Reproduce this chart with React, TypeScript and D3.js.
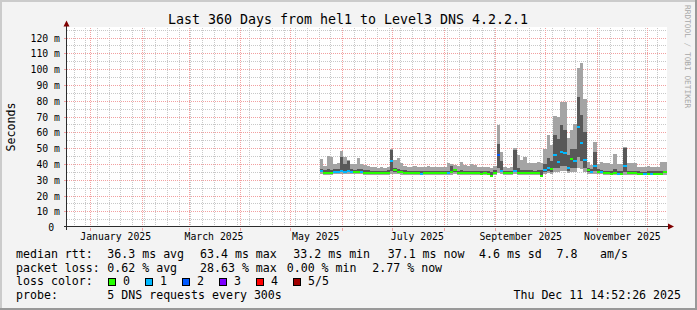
import React from 'react';
import * as d3 from 'd3';

// ---------- data (2-day samples, ms) ----------
const DATA_START = Date.UTC(2025, 4, 18, 12);
const STEP_DAYS = 2;
// max ping (light smoke top)
const hi = [
  43.3, 38.9, 45.2, 45.0, 40.5, 41.0, 48.5, 45.0, 42.6, 40.0,
  40.5, 44.0, 40.5, 39.5, 39.0, 38.6, 38.3, 38.0, 38.2, 38.0,
  38.6, 50.0, 43.0, 43.9, 41.0, 39.0, 38.5, 38.3, 38.9, 38.5,
  38.2, 38.5, 39.0, 38.3, 38.2, 38.5, 38.3, 38.5, 40.7, 40.0,
  39.5, 39.0, 41.8, 39.5, 38.9, 40.1, 39.5, 38.5, 38.2, 38.5,
  38.3, 38.0, 39.0, 64.7, 48.0, 38.5, 38.0, 38.2, 50.2, 45.8,
  42.6, 44.5, 40.7, 41.0, 40.7, 41.4, 40.7, 50.0, 58.4, 52.0,
  70.4, 70.0, 79.3, 79.3, 56.5, 62.0, 65.8, 100.8, 104.0, 81.6,
  41.6, 39.5, 54.2, 40.0, 41.8, 40.7, 40.7, 40.0, 46.8, 40.0,
  40.0, 51.0, 40.7, 40.7, 41.0, 38.5, 38.2, 38.2, 38.9, 38.2,
  38.2, 38.5, 41.8, 41.4,
];
// 4th ping (dark smoke top)
const p4 = [
  37.2, 36.5, 37.0, 36.6, 36.8, 37.4, 44.7, 40.0, 42.4, 37.0,
  36.5, 37.0, 36.8, 36.5, 36.2, 36.0, 36.0, 35.8, 35.9, 35.8,
  36.2, 49.0, 38.0, 37.0, 36.5, 36.2, 36.0, 35.8, 36.0, 35.8,
  35.8, 35.8, 36.0, 35.8, 35.7, 35.8, 35.8, 35.9, 36.0, 39.0,
  37.0, 36.0, 36.5, 36.0, 35.9, 36.0, 35.9, 35.8, 35.6, 35.7,
  35.6, 35.4, 36.5, 53.0, 42.0, 36.0, 35.8, 35.8, 49.0, 38.0,
  36.5, 36.5, 36.2, 36.2, 36.0, 36.3, 36.5, 40.0, 44.0, 42.0,
  58.4, 56.0, 64.7, 62.0, 46.0, 50.0, 50.0, 82.6, 71.0, 60.5,
  38.0, 37.0, 48.0, 37.0, 36.5, 36.0, 36.0, 36.0, 37.0, 35.8,
  35.8, 50.5, 36.0, 36.0, 36.0, 35.6, 35.5, 35.5, 36.0, 35.6,
  35.6, 35.6, 36.0, 36.0,
];
// median rtt
const med = [
  35.7, 34.6, 34.6, 34.8, 35.3, 35.5, 35.6, 35.5, 35.7, 35.4,
  35.0, 35.0, 35.5, 34.8, 34.6, 34.5, 34.4, 34.3, 34.4, 34.3,
  34.5, 42.0, 36.6, 35.2, 35.0, 34.6, 34.5, 34.4, 34.4, 34.3,
  34.2, 34.3, 34.4, 34.3, 34.3, 34.4, 34.3, 34.3, 34.4, 35.5,
  36.6, 34.6, 34.6, 34.5, 34.4, 34.5, 34.4, 34.3, 34.2, 34.3,
  34.2, 32.8, 34.4, 45.8, 36.0, 34.4, 34.3, 34.3, 36.0, 34.6,
  34.5, 34.5, 34.4, 34.5, 34.3, 34.4, 32.8, 36.3, 38.0, 37.0,
  45.8, 41.5, 47.7, 47.0, 37.6, 43.5, 42.0, 63.4, 53.4, 42.6,
  36.3, 35.5, 39.0, 35.5, 35.2, 34.4, 34.4, 34.2, 34.3, 34.2,
  34.2, 38.9, 34.3, 34.3, 34.3, 34.0, 34.0, 34.0, 34.0, 34.0,
  34.0, 34.0, 34.2, 35.5,
];
// 2nd ping (dark smoke bottom)
const p2 = [
  35.0, 34.2, 34.2, 34.3, 34.8, 35.0, 35.1, 35.0, 35.2, 34.9,
  34.6, 34.6, 35.0, 34.4, 34.2, 34.1, 34.0, 33.9, 34.0, 33.9,
  34.1, 36.0, 35.5, 34.7, 34.5, 34.2, 34.1, 34.0, 34.0, 33.9,
  33.8, 33.9, 34.0, 33.9, 33.9, 34.0, 33.9, 33.9, 34.0, 34.6,
  35.2, 34.2, 34.2, 34.1, 34.0, 34.1, 34.0, 33.9, 33.8, 33.9,
  33.8, 32.5, 34.0, 38.0, 35.0, 34.0, 33.9, 33.9, 35.0, 34.2,
  34.1, 34.1, 34.0, 34.1, 33.9, 34.0, 32.5, 35.0, 36.0, 35.5,
  38.0, 37.5, 39.0, 39.0, 36.0, 38.0, 37.5, 45.0, 42.0, 38.0,
  35.2, 34.8, 36.0, 34.8, 34.6, 34.0, 34.0, 33.8, 33.9, 33.8,
  33.8, 35.0, 33.9, 33.9, 33.9, 33.6, 33.6, 33.6, 33.6, 33.6,
  33.6, 33.6, 33.8, 34.6,
];
// min ping (light smoke bottom)
const lo = [
  33.8, 33.4, 33.5, 33.6, 33.9, 34.0, 34.1, 34.0, 34.2, 34.0,
  33.8, 33.8, 34.0, 33.6, 33.5, 33.4, 33.3, 33.2, 33.3, 33.2,
  33.4, 34.0, 34.2, 33.8, 33.6, 33.4, 33.3, 33.3, 33.3, 33.2,
  33.1, 33.2, 33.3, 33.2, 33.2, 33.3, 33.2, 33.2, 33.3, 33.6,
  34.0, 33.4, 33.4, 33.3, 33.3, 33.3, 33.3, 33.2, 33.1, 33.2,
  33.1, 32.2, 33.3, 34.5, 34.0, 33.3, 33.2, 33.2, 33.8, 33.4,
  33.3, 33.3, 33.3, 33.3, 33.2, 33.3, 32.0, 34.0, 34.5, 34.2,
  35.5, 35.0, 36.0, 36.0, 34.5, 35.5, 35.0, 38.0, 37.0, 35.5,
  34.0, 33.8, 34.2, 33.8, 33.7, 33.3, 33.3, 33.1, 33.2, 33.1,
  33.1, 33.5, 33.2, 33.2, 33.2, 33.0, 33.0, 33.0, 33.0, 33.0,
  33.0, 33.0, 33.1, 33.5,
];
// lost pings out of 5
const loss = [
  1, 0, 0, 0, 1, 1, 1, 1, 1, 1,
  0, 0, 1, 0, 0, 0, 0, 0, 0, 0,
  0, 1, 0, 0, 0, 0, 0, 0, 0, 0,
  1, 0, 0, 0, 0, 0, 0, 0, 1, 0,
  0, 0, 0, 0, 0, 0, 0, 0, 0, 0,
  0, 0, 0, 2, 1, 0, 0, 0, 1, 0,
  0, 0, 0, 0, 0, 0, 0, 1, 1, 0,
  1, 1, 1, 1, 1, 0, 1, 1, 1, 1,
  0, 1, 1, 0, 1, 0, 0, 0, 0, 1,
  0, 1, 0, 0, 0, 0, 0, 1, 0, 1,
  0, 0, 0, 0,
];

const lossLabels = ['0', '1', '2', '3', '4', '5/5'];
const lossColors = ['#26ff00', '#00b8ff', '#0059ff', '#7e00ff', '#ff0000', '#a00000'];
const yTickValues = [0, 10, 20, 30, 40, 50, 60, 70, 80, 90, 100, 110, 120];
const labelMonths = [
  Date.UTC(2025, 0, 1), Date.UTC(2025, 2, 1), Date.UTC(2025, 4, 1),
  Date.UTC(2025, 6, 1), Date.UTC(2025, 8, 1), Date.UTC(2025, 10, 1),
];

const rttRow = [
  { t: 'median rtt:', x: 16 },
  { t: '36.3 ms avg', x: 107.3 },
  { t: '63.4 ms max', x: 200 },
  { t: '33.2 ms min', x: 293.3 },
  { t: '37.1 ms now', x: 387.7 },
  { t: '4.6 ms sd', x: 479 },
  { t: '7.8', x: 556.5 },
  { t: 'am/s', x: 600 },
];
const lossRow = [
  { t: 'packet loss:', x: 16 },
  { t: '0.62 % avg', x: 107.3 },
  { t: '28.63 % max', x: 200 },
  { t: '0.00 % min', x: 286.7 },
  { t: '2.77 % now', x: 372.3 },
];
const lossBoxX = [108.5, 145.5, 182.5, 219.5, 256.5, 293.5];

// ---------- layout ----------
const W = 697, H = 310;
const PL = 67, PW = 600;
const END = Date.UTC(2025, 11, 12, 18, 40);
const START = END - 360 * 864e5;
const FONT = '"DejaVu Sans Mono", monospace';

export default function App() {
  const x = d3.scaleUtc().domain([START, END]).range([PL, PL + PW]);
  const y = d3.scaleLinear().domain([0, 126.6]).range([227.6, 27.6]);
  const yTop = y(126.6);
  const yBot = y(0);
  const px = (v: number) => Math.floor(v) + 0.5;

  const minorX = d3.utcSunday.range(new Date(START), new Date(END));
  const majorX = d3.utcMonth.range(new Date(START), new Date(END));
  const minorY = d3.range(5, 126, 10);

  const step = STEP_DAYS * 864e5;
  const bars = med.map((m, i) => {
    const t0 = DATA_START + i * step;
    const x0 = Math.round(x(t0));
    const x1 = Math.round(x(t0 + step));
    return { i, x0, w: Math.max(1, x1 - x0) };
  });

  const mgrid = '#f2a0a0';
  const grid = '#c8c8c8';

  return (
    <div style={{ width: W, height: H }}>
      <style>{`html,body{margin:0;padding:0;}`}</style>
      <svg width={W} height={H} xmlns="http://www.w3.org/2000/svg" style={{ display: 'block' }}>
        <rect x={0} y={0} width={W} height={H} fill="#f3f3f3" />
        {/* shade border */}
        <rect x={0} y={0} width={W} height={2} fill="#cbcbcb" />
        <rect x={0} y={0} width={2} height={H} fill="#cbcbcb" />
        <rect x={0} y={H - 2} width={W} height={2} fill="#999999" />
        <rect x={W - 2} y={0} width={2} height={H} fill="#999999" />

        {/* canvas */}
        <rect x={PL} y={Math.floor(yTop)} width={PW} height={Math.round(yBot - yTop)} fill="#ffffff" />

        {/* minor grid */}
        <g stroke={grid} strokeWidth={1} strokeDasharray="1,1" shapeRendering="crispEdges">
          {minorX.map((d, k) => (
            <line key={'mx' + k} x1={px(x(d))} x2={px(x(d))} y1={yTop} y2={yBot} />
          ))}
          {minorY.map((v) => (
            <line key={'my' + v} x1={PL} x2={PL + PW} y1={px(y(v))} y2={px(y(v))} />
          ))}
          <line x1={PL} x2={PL + PW} y1={px(y(125))} y2={px(y(125))} />
        </g>
        {/* major grid */}
        <g stroke={mgrid} strokeWidth={1} shapeRendering="crispEdges">
          {majorX.map((d, k) => (
            <g key={'Mx' + k}>
              <line x1={px(x(d))} x2={px(x(d))} y1={yTop} y2={yBot} strokeDasharray="1,1" />
              <line x1={px(x(d))} x2={px(x(d))} y1={yBot} y2={yBot + 3} />
            </g>
          ))}
          {yTickValues.filter((v) => v > 0).map((v) => (
            <g key={'My' + v}>
              <line x1={PL} x2={PL + PW} y1={px(y(v))} y2={px(y(v))} strokeDasharray="1,1" />
              <line x1={PL - 3} x2={PL} y1={px(y(v))} y2={px(y(v))} />
            </g>
          ))}
        </g>

        {/* smoke */}
        <g shapeRendering="crispEdges">
          {bars.map(({ i, x0, w }) => (
            <g key={'b' + i}>
              <rect x={x0} y={y(hi[i])} width={w} height={y(lo[i]) - y(hi[i])} fill="#a4a4a4" />
              <rect x={x0} y={y(p4[i])} width={w} height={y(p2[i]) - y(p4[i])} fill="#585858" />
              <rect x={x0} y={y(med[i]) - 1} width={w} height={2} fill={lossColors[loss[i]]} />
            </g>
          ))}
        </g>

        {/* axes */}
        <g stroke="#2c2c2c" strokeWidth={1} shapeRendering="crispEdges">
          <line x1={PL - 0.5} x2={PL - 0.5} y1={yBot + 2} y2={yTop - 4} />
          <line x1={PL - 3} x2={PL + PW + 3} y1={px(yBot) - 1} y2={px(yBot) - 1} />
        </g>
        <path d={`M${PL - 0.5},${yTop - 7} L${PL - 3.5},${yTop - 1} L${PL + 2.5},${yTop - 1} Z`} fill="#7f0000" />
        <path d={`M${PL + PW + 7},${px(yBot) - 1} L${PL + PW + 1},${px(yBot) - 4} L${PL + PW + 1},${px(yBot) + 2} Z`} fill="#7f0000" />

        {/* y labels */}
        <g fontFamily={FONT} fontSize={9.8} fill="#000" textAnchor="end">
          {yTickValues.map((v) => (
            <text key={'yl' + v} x={60} y={px(y(v)) + 3.5} style={{ whiteSpace: 'pre' }}>
              {v === 0 ? '0 ' : `${v} m`}
            </text>
          ))}
        </g>
        {/* x labels */}
        <g fontFamily={FONT} fontSize={9.8} fill="#000" textAnchor="middle">
          {labelMonths.map((t) => (
            <text key={'xl' + t} x={x(t + 15 * 864e5)} y={240}>
              {d3.utcFormat('%B %Y')(new Date(t))}
            </text>
          ))}
        </g>

        {/* title */}
        <text x={348} y={24} fontFamily={FONT} fontSize={13.3} textAnchor="middle" fill="#000">
          Last 360 Days from hel1 to Level3 DNS 4.2.2.1
        </text>
        {/* vertical label */}
        <text transform="translate(15,127) rotate(-90)" fontFamily={FONT} fontSize={11.6} textAnchor="middle" fill="#000">
          Seconds
        </text>
        <text transform="translate(685,5) rotate(90)" fontFamily={FONT} fontSize={7.8} fill="#a8a8a8">
          RRDTOOL / TOBI OETIKER
        </text>

        {/* legend */}
        <g fontFamily={FONT} fontSize={11.6} fill="#000" style={{ whiteSpace: 'pre' }}>
          {rttRow.map((r) => (
            <text key={'r' + r.x} x={r.x} y={258}>{r.t}</text>
          ))}
          {lossRow.map((r) => (
            <text key={'l' + r.x} x={r.x} y={271.5}>{r.t}</text>
          ))}
          <text x={16} y={285}>loss color:</text>
          {lossLabels.map((l, k) => (
            <g key={'lc' + k}>
              <rect x={lossBoxX[k]} y={278.5} width={7} height={7} fill={lossColors[k]} stroke="#000" strokeWidth={1} />
              <text x={lossBoxX[k] + 14.5} y={285}>{l}</text>
            </g>
          ))}
          <text x={16} y={299}>probe:</text>
          <text x={107.3} y={299}>5 DNS requests every 300s</text>
          <text x={681} y={299} textAnchor="end">Thu Dec 11 14:52:26 2025</text>
        </g>
      </svg>
    </div>
  );
}
